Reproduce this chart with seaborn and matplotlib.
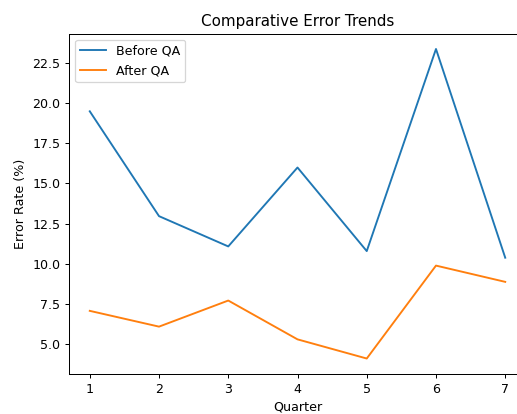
import matplotlib
matplotlib.use("Agg")
import matplotlib.pyplot as plt
import seaborn as sns
import pandas as pd

quarters = [1, 2, 3, 4, 5, 6, 7]
before_qa = [19.47, 12.96, 11.08, 15.98, 10.79, 23.34, 10.38]
after_qa = [7.08, 6.10, 7.72, 5.31, 4.12, 9.89, 8.88]

df = pd.DataFrame({
    "Quarter": quarters * 2,
    "Error Rate (%)": before_qa + after_qa,
    "Series": ["Before QA"] * len(quarters) + ["After QA"] * len(quarters),
})

DPI = 91
fig = plt.figure(figsize=(517 / DPI, 414 / DPI), dpi=DPI)
ax = fig.add_axes([69 / 517, 1 - 374 / 414, (526 - 69) / 517, (374 - 33.5) / 414])
sns.lineplot(data=df, x="Quarter", y="Error Rate (%)", hue="Series",
             palette=["#1f77b4", "#ff7f0e"], ax=ax)
ax.legend(title=None, loc="upper left")
ax.set_title("Comparative Error Trends")
fig.savefig("out.png", dpi=DPI)
